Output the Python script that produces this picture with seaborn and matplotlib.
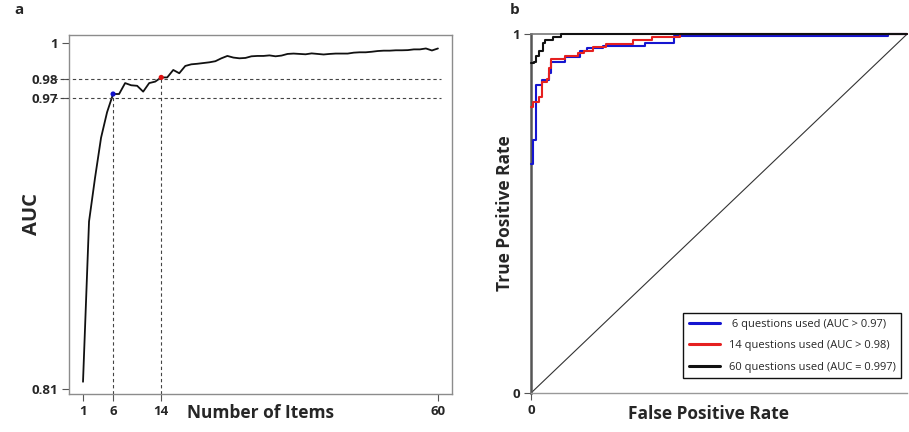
import numpy as np
import pandas as pd
import matplotlib
matplotlib.use("Agg")
import matplotlib.pyplot as plt
import seaborn as sns

sns.set_theme(style="white")
plt.rcParams['font.family'] = ['Open Sans', 'DejaVu Sans']

# ---------------- data ----------------
items = list(range(1, 61))
auc = [0.814, 0.902, 0.926, 0.948, 0.962, 0.972, 0.972, 0.978, 0.9768, 0.9765,
       0.9733, 0.978, 0.9788, 0.9811, 0.9811, 0.9852, 0.9834, 0.9874, 0.9883, 0.9886,
       0.989, 0.9894, 0.990, 0.9916, 0.9929, 0.992, 0.9916, 0.9918, 0.9927, 0.9929,
       0.9929, 0.9932, 0.9927, 0.9931, 0.994, 0.9942, 0.994, 0.9938, 0.9943, 0.994,
       0.9937, 0.994, 0.9942, 0.9942, 0.9942, 0.9947, 0.9949, 0.9949, 0.9952, 0.9956,
       0.9958, 0.9958, 0.996, 0.996, 0.9961, 0.9965, 0.9965, 0.997, 0.9959, 0.997]
x_ticks = [1, 6, 14, 60]
y_ticks = [0.81, 0.97, 0.98, 1.0]
y_ticklabels = ["0.81", "0.97", "0.98", "1"]
thresholds = [0.97, 0.98]
selected_items = [6, 14]
selected_colors = ["#1010c8", "#e01010"]

fpr_6 = [0.0, 0.005, 0.005, 0.014, 0.014, 0.030, 0.030, 0.047, 0.047, 0.053, 0.053,
         0.090, 0.090, 0.130, 0.130, 0.150, 0.150, 0.190, 0.190, 0.303, 0.303, 0.379,
         0.379, 0.950, 0.950, 1.0]
tpr_6 = [0.638, 0.638, 0.705, 0.705, 0.858, 0.858, 0.872, 0.872, 0.890, 0.890, 0.923,
         0.923, 0.937, 0.937, 0.953, 0.953, 0.960, 0.960, 0.967, 0.967, 0.976, 0.976,
         0.995, 0.995, 1.0, 1.0]

fpr_14 = [0.0, 0.006, 0.006, 0.020, 0.020, 0.030, 0.030, 0.042, 0.042, 0.048, 0.048,
          0.053, 0.053, 0.089, 0.089, 0.124, 0.124, 0.140, 0.140, 0.164, 0.164, 0.199,
          0.199, 0.272, 0.272, 0.321, 0.321, 0.396, 0.396, 1.0]
tpr_14 = [0.796, 0.796, 0.811, 0.811, 0.825, 0.825, 0.867, 0.867, 0.876, 0.876, 0.904,
          0.904, 0.930, 0.930, 0.939, 0.939, 0.946, 0.946, 0.953, 0.953, 0.963, 0.963,
          0.972, 0.972, 0.983, 0.983, 0.991, 0.991, 1.0, 1.0]

fpr_60 = [0.0, 0.009, 0.009, 0.013, 0.013, 0.020, 0.020, 0.031, 0.031, 0.036, 0.036,
          0.058, 0.058, 0.080, 0.080, 1.0]
tpr_60 = [0.918, 0.918, 0.923, 0.923, 0.939, 0.939, 0.953, 0.953, 0.976, 0.976, 0.983,
          0.983, 0.991, 0.991, 1.0, 1.0]

roc_labels = [" 6 questions used (AUC > 0.97)",
              "14 questions used (AUC > 0.98)",
              "60 questions used (AUC = 0.997)"]
roc_colors = ["#1515d0", "#e52020", "#111111"]

# ---------------- figure ----------------
fig = plt.figure(figsize=(9.09, 4.32), dpi=100)
axA = fig.add_axes([0.0759, 0.088, 0.4213, 0.831])
axB = fig.add_axes([0.5842, 0.0903, 0.4138, 0.8310])

# ----- panel a -----
dfA = pd.DataFrame({"items": items, "auc": auc})
sns.lineplot(data=dfA, x="items", y="auc", ax=axA, color="#111111", lw=1.3)
xlo, xhi = -1.33, 62.33
axA.set_xlim(xlo, xhi)
axA.set_ylim(0.8073, 1.0044)
dash = dict(color="#444444", lw=0.8, linestyle=(0, (3, 2.5)))
for t in thresholds:
    axA.hlines(t, xlo - 2.5, 60.5, clip_on=False, **dash)
for n, c in zip(selected_items, selected_colors):
    v = auc[n - 1]
    axA.vlines(n, 0.8073, v, **dash)
    sns.scatterplot(x=[n], y=[v], ax=axA, color=c, s=14, edgecolor="none", zorder=5)

axA.set_xticks(x_ticks)
axA.set_yticks(y_ticks)
axA.set_yticklabels(y_ticklabels)
axA.tick_params(axis="both", which="both", direction="out", length=5, width=0.8,
                color="#555555", labelsize=9.5, pad=3, bottom=True, left=True)
for lab in axA.get_xticklabels() + axA.get_yticklabels():
    lab.set_fontweight("bold")
for s in axA.spines.values():
    s.set_color("#8c8c8c")
    s.set_linewidth(1.0)
axA.set_xlabel("Number of Items", fontsize=12.5, fontweight="bold", va="center")
axA.xaxis.set_label_coords(0.499, -0.052)
axA.set_ylabel("AUC", fontsize=14.5, fontweight="bold", va="center")
axA.yaxis.set_label_coords(-0.097, 0.5)
axA.grid(False)

# ----- panel b -----
axB.plot([0, 1], [0, 1], color="#333333", lw=0.8)
for f, t, lab, c in zip([fpr_6, fpr_14, fpr_60], [tpr_6, tpr_14, tpr_60], roc_labels, roc_colors):
    dfB = pd.DataFrame({"fpr": f, "tpr": t})
    sns.lineplot(data=dfB, x="fpr", y="tpr", ax=axB, sort=False, estimator=None,
                 color=c, lw=1.5, label=lab, clip_on=False, zorder=4)
axB.set_xlim(0, 1)
axB.set_ylim(0, 1)
axB.set_xticks([0])
axB.set_xticklabels(["0"])
axB.set_yticks([0, 1])
axB.set_yticklabels(["0", "1"])
axB.tick_params(axis="both", which="both", direction="out", length=5, width=0.8,
                color="#555555", labelsize=9.5, pad=3, bottom=True, left=True)
for lab in axB.get_xticklabels() + axB.get_yticklabels():
    lab.set_fontweight("bold")
axB.spines["right"].set_visible(False)
axB.spines["left"].set_color("#555555")
axB.spines["left"].set_linewidth(1.8)
axB.spines["bottom"].set_color("#999999")
axB.spines["bottom"].set_linewidth(1.0)
axB.spines["top"].set_color("#777777")
axB.spines["top"].set_linewidth(1.2)
axB.set_xlabel("False Positive Rate", fontsize=12.5, fontweight="bold", va="center")
axB.xaxis.set_label_coords(0.471, -0.058)
axB.set_ylabel("True Positive Rate", fontsize=12.5, fontweight="bold", va="center")
axB.yaxis.set_label_coords(-0.069, 0.5)
axB.grid(False)
leg = axB.legend(loc="lower right", bbox_to_anchor=(0.99, 0.035), fontsize=8.0,
                 frameon=True, fancybox=False, edgecolor="#111111", framealpha=1,
                 handlelength=2.8, handletextpad=0.8, borderpad=0.5, labelspacing=0.95,
                 borderaxespad=0.2)
leg.get_frame().set_linewidth(1.0)
for line in leg.get_lines():
    line.set_linewidth(2.2)

fig.text(0.016, 0.993, "a", fontsize=11, fontweight="bold", va="top")
fig.text(0.561, 0.993, "b", fontsize=11, fontweight="bold", va="top")

fig.savefig("out.png", dpi=100)
